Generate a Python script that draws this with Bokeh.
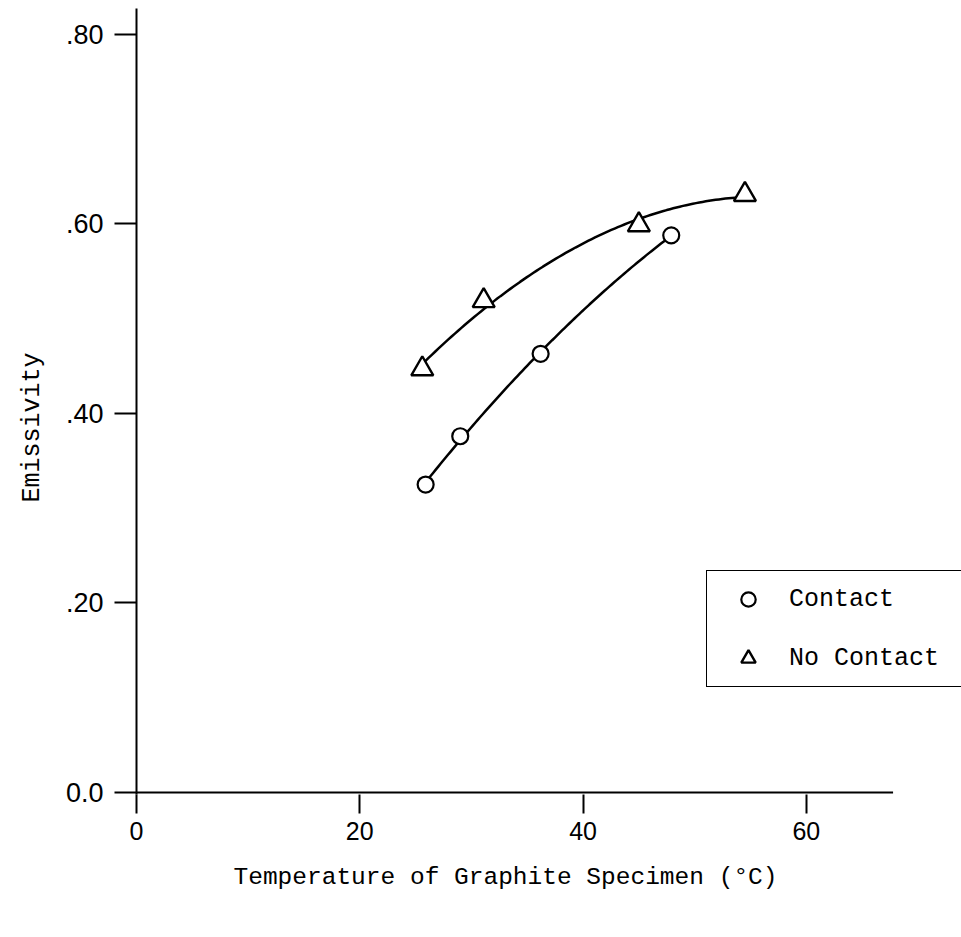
import numpy as np
from bokeh.plotting import figure
from bokeh.models import Range1d, FixedTicker, Legend, LegendItem, Title
from bokeh.embed import file_html
from bokeh.resources import INLINE

# ---- data ----
contact_temp = [25.9, 29.0, 36.2, 47.9]
contact_emis = [0.325, 0.376, 0.463, 0.588]
nocontact_temp = [25.6, 31.1, 45.0, 54.5]
nocontact_emis = [0.447, 0.519, 0.599, 0.631]

x_ticks = [0, 20, 40, 60]
y_ticks = [0.0, 0.2, 0.4, 0.6, 0.8]
y_tick_labels = ["0.0", ".20", ".40", ".60", ".80"]
x_axis_end = 67.77   # where the drawn x-axis line stops

MONO = "Liberation Mono"

p = figure(width=961, height=937, output_backend="svg", toolbar_location=None,
           x_range=Range1d(0, 73.9), y_range=Range1d(-0.0021, 0.8274),
           min_border_left=135, min_border_right=0, min_border_top=8,
           min_border_bottom=143)
p.grid.visible = False
p.outline_line_color = None
p.background_fill_color = "white"
p.border_fill_color = "white"

# axes
p.xaxis.ticker = FixedTicker(ticks=x_ticks)
p.yaxis.ticker = FixedTicker(ticks=y_ticks)
p.yaxis.major_label_overrides = {t: l for t, l in zip(y_ticks, y_tick_labels)}
for ax in (p.xaxis[0], p.yaxis[0]):
    ax.axis_line_width = 2
    ax.axis_line_color = "black"
    ax.major_tick_line_width = 2
    ax.major_tick_line_color = "black"
    ax.major_tick_in = 0
    ax.minor_tick_line_color = None
    ax.major_label_text_color = "black"

p.xaxis.axis_line_color = None   # drawn below as a segment so it stops at x_axis_end
p.xaxis.major_tick_out = 19
p.xaxis.major_label_standoff = 8
p.xaxis.major_label_text_font = "Liberation Sans Narrow, Liberation Sans"
p.xaxis.major_label_text_font_size = "25px"

p.yaxis.major_tick_out = 22
p.yaxis.major_label_standoff = 11
p.yaxis.major_label_text_font = "Liberation Sans"
p.yaxis.major_label_text_font_size = "27px"

p.segment(x0=[0], y0=[0], x1=[x_axis_end], y1=[0], line_color="black", line_width=2.2)

# axis titles
p.add_layout(Title(text="Temperature of Graphite Specimen (°C)", align="left",
                   offset=97, standoff=38, text_font=MONO, text_font_size="24.5px",
                   text_font_style="normal", text_color="black"), "below")
p.add_layout(Title(text="Emissivity", align="left", offset=292, standoff=31,
                   text_font=MONO, text_font_size="25px",
                   text_font_style="normal", text_color="black"), "left")

# smooth curves through the measured points
def smooth(xs, ys):
    c = np.polyfit(xs, ys, 2)
    xx = np.linspace(min(xs), max(xs), 100)
    return xx, np.polyval(c, xx)

cx, cy = smooth(contact_temp, contact_emis)
nx, ny = smooth(nocontact_temp, nocontact_emis)
p.line(cx, cy, line_color="black", line_width=2.5)
p.line(nx, ny, line_color="black", line_width=2.5)

r_c = p.scatter(contact_temp, contact_emis, marker="circle", size=16,
                fill_color="white", line_color="black", line_width=2.2)
r_n = p.scatter(nocontact_temp, nocontact_emis, marker="triangle", size=22,
                fill_color="white", line_color="black", line_width=2.4)

legend = Legend(items=[LegendItem(label="Contact", renderers=[r_c]),
                       LegendItem(label="No Contact", renderers=[r_n])],
                location=(570, 107), orientation="vertical",
                padding=10, spacing=23, margin=0,
                glyph_width=62, glyph_height=36, label_height=36,
                label_width=220, label_standoff=10,
                label_text_font=MONO, label_text_font_size="25px",
                label_text_color="black",
                border_line_color="black", border_line_width=1.5,
                border_line_alpha=1.0,
                background_fill_color="white", background_fill_alpha=1.0)
p.add_layout(legend, "center")

open("out.html", "w").write(file_html(p, INLINE))
